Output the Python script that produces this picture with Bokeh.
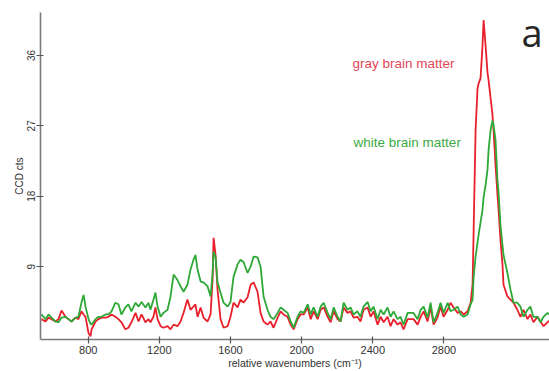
from bokeh.plotting import figure
from bokeh.models import Label, Range1d, FixedTicker, ColumnDataSource
from bokeh.embed import file_html
from bokeh.resources import INLINE

# relative wavenumbers (cm^-1)
wavenumber = [537, 560, 577, 594, 616, 633, 650, 672, 689, 706, 729, 745, 762, 774, 785, 802, 813, 819,
              841, 858, 875, 897, 914, 931, 953, 970, 987, 1009, 1026, 1043, 1066, 1083, 1100, 1122, 1139,
              1150, 1167, 1178, 1190, 1207, 1223, 1246, 1263, 1280, 1302, 1319, 1336, 1358, 1375, 1392,
              1403, 1415, 1432, 1448, 1471, 1488, 1499, 1505, 1516, 1527, 1544, 1561, 1584, 1600, 1617,
              1640, 1656, 1673, 1696, 1713, 1730, 1752, 1769, 1786, 1808, 1825, 1842, 1865, 1882, 1898,
              1921, 1938, 1955, 1977, 1994, 2011, 2034, 2051, 2067, 2090, 2107, 2124, 2146, 2163, 2180,
              2202, 2219, 2236, 2258, 2275, 2292, 2314, 2331, 2348, 2371, 2388, 2404, 2427, 2444, 2461,
              2483, 2500, 2517, 2539, 2556, 2573, 2596, 2612, 2629, 2652, 2669, 2686, 2708, 2725, 2742,
              2764, 2781, 2798, 2821, 2837, 2854, 2877, 2894, 2911, 2933, 2950, 2961, 2967, 2978, 2989,
              2995, 3006, 3017, 3023, 3034, 3045, 3051, 3062, 3073, 3079, 3090, 3101, 3107, 3118, 3129,
              3135, 3157, 3174, 3191, 3213, 3230, 3247, 3270, 3286, 3303, 3326, 3343, 3360, 3382, 3399]

# CCD counts, white brain matter (green)
white_matter = [2.9, 2.3, 2.9, 2.5, 2.0, 1.9, 2.5, 2.6, 2.3, 2.0, 2.5, 2.6, 4.4, 5.4, 3.9, 2.3, 1.7, 1.6,
                2.3, 2.6, 2.6, 2.9, 2.9, 3.3, 4.4, 4.2, 2.9, 3.8, 4.2, 3.3, 4.4, 3.9, 4.5, 3.8, 4.4,
                3.5, 4.8, 5.7, 3.9, 2.6, 3.1, 3.5, 5.2, 8.0, 7.3, 6.5, 5.8, 6.7, 8.6, 9.9,
                10.5, 8.6, 7.1, 7.0, 6.5, 5.2, 8.0, 10.9, 10.2, 7.0, 5.7, 4.4, 3.9, 4.5, 7.7,
                9.3, 9.9, 9.6, 8.2, 9.0, 10.3, 10.2, 9.0, 5.2, 3.5, 2.6, 2.3, 3.1, 3.8, 3.5,
                3.1, 2.0, 1.2, 2.6, 3.3, 3.1, 4.2, 2.9, 3.8, 2.6, 3.9, 4.4, 3.1, 2.3, 3.8,
                2.6, 2.0, 4.4, 3.5, 3.8, 2.9, 3.3, 2.6, 3.9, 4.5, 3.3, 3.9, 2.3, 3.5, 2.9,
                3.8, 2.6, 3.3, 2.3, 2.6, 1.6, 3.1, 3.1, 3.1, 2.3, 3.5, 3.9, 2.5, 4.4, 1.9,
                3.1, 4.4, 3.1, 4.4, 3.3, 3.5, 3.9, 2.9, 2.6, 2.9, 4.2, 4.8, 7.7, 10.3, 12.1,
                13.1, 14.7, 16.3, 17.9, 19.4, 21.4, 23.9, 26.4, 27.7, 27.1, 25.2, 20.1, 18.5, 14.3, 11.8,
                10.5, 8.2, 6.1, 4.4, 4.4, 3.9, 2.6, 3.5, 3.9, 2.6, 2.6, 1.9, 2.6, 3.1, 2.8]

# CCD counts, gray brain matter (red)
gray_matter = [2.3, 2.0, 2.5, 2.3, 2.0, 2.3, 3.4, 2.6, 2.3, 2.0, 2.5, 2.3, 3.3, 2.9, 2.6, 0.5, 0.1, 1.0,
               2.0, 2.3, 2.5, 2.5, 2.6, 2.9, 2.6, 2.3, 1.9, 1.0, 1.2, 1.9, 3.1, 2.0, 2.9, 1.9, 2.3,
               1.9, 2.6, 3.8, 2.3, 1.4, 1.2, 1.4, 1.0, 1.6, 1.4, 2.0, 3.1, 4.8, 3.5, 3.9,
               4.2, 2.6, 3.8, 2.5, 2.0, 2.9, 7.3, 12.7, 10.5, 6.1, 2.3, 1.2, 1.4, 2.6, 4.4,
               3.8, 4.8, 4.4, 5.1, 6.7, 7.0, 5.8, 3.1, 2.0, 1.6, 2.0, 1.2, 2.5, 3.3, 2.9,
               2.6, 1.6, 1.0, 2.3, 2.9, 2.9, 3.8, 2.3, 3.3, 2.3, 3.5, 3.8, 2.6, 1.9, 3.3,
               2.3, 2.0, 3.8, 3.1, 3.3, 2.5, 2.6, 2.0, 3.5, 3.8, 2.6, 3.3, 1.6, 2.6, 1.9,
               2.6, 1.4, 2.3, 1.6, 1.9, 1.0, 2.3, 2.3, 2.3, 1.6, 2.6, 3.3, 2.0, 3.8, 1.6,
               2.5, 3.9, 2.6, 3.5, 4.4, 3.8, 3.1, 3.3, 2.9, 3.3, 4.4, 6.7, 13.7, 26.4, 31.8,
               32.4, 33.1, 37.3, 40.5, 37.3, 33.8, 32.8, 30.6, 28.4, 26.4, 22.0, 18.2, 16.3, 12.4, 9.3,
               6.7, 5.2, 4.8, 4.4, 3.5, 2.6, 3.5, 2.3, 2.9, 1.9, 2.6, 2.0, 1.4, 1.9, 2.2]

x_ticks = [800, 1200, 1600, 2000, 2400, 2800]
y_ticks = [9, 18, 27, 36]

RED = "#e8202c"
GREEN = "#2ea836"

src = ColumnDataSource(dict(w=wavenumber, white=white_matter, gray=gray_matter))

p = figure(width=549, height=371, output_backend="svg", toolbar_location=None,
           x_range=Range1d(531.8, 3393.5), y_range=Range1d(-0.3, 41.48),
           min_border_left=40, min_border_right=0, min_border_top=12, min_border_bottom=31)
p.outline_line_color = None
p.grid.visible = False
p.background_fill_color = "white"
p.border_fill_color = "white"

p.line("w", "gray", source=src, line_color=RED, line_width=1.8)
p.line("w", "white", source=src, line_color=GREEN, line_width=1.8)

axis_color = "#7a7a7a"
for ax in (p.xaxis[0], p.yaxis[0]):
    ax.axis_line_color = axis_color
    ax.axis_line_width = 1.6
    ax.major_tick_line_color = "#555555"
    ax.major_tick_line_width = 1.2
    ax.minor_tick_line_color = None
    ax.major_label_text_font = "Liberation Sans"
    ax.major_label_text_color = "#333333"
    ax.axis_label_text_font = "Liberation Sans"
    ax.axis_label_text_font_style = "normal"
    ax.axis_label_text_color = "#333333"

p.xaxis.ticker = FixedTicker(ticks=x_ticks)
p.xaxis.major_tick_in = 3
p.xaxis.major_tick_out = 4
p.xaxis.major_label_standoff = 2
p.xaxis.major_label_text_font_size = "11px"
p.xaxis.axis_label = "relative wavenumbers (cm\u207b\u00b9)"
p.xaxis.axis_label_text_font_size = "10.5px"
p.xaxis.axis_label_standoff = 0

p.yaxis.ticker = FixedTicker(ticks=y_ticks)
p.yaxis.major_tick_in = 3
p.yaxis.major_tick_out = 4
p.yaxis.major_label_standoff = 1
p.yaxis.major_label_orientation = "vertical"
p.yaxis.major_label_text_font_size = "10px"
p.yaxis.axis_label = "CCD cts"
p.yaxis.axis_label_text_font_size = "10px"
p.yaxis.axis_label_standoff = 0

p.add_layout(Label(x=2286, y=34.9, text="gray brain matter", text_color="#e04858",
                   text_font="Liberation Sans", text_font_size="13.5px",
                   text_baseline="middle", text_align="left"))
p.add_layout(Label(x=2292, y=24.86, text="white brain matter", text_color="#3caa44",
                   text_font="Liberation Sans", text_font_size="13.5px",
                   text_baseline="middle", text_align="left"))
p.add_layout(Label(x=3236, y=39.0, text="a", text_color="#262626",
                   text_font="Open Sans", text_font_size="38px",
                   text_baseline="middle", text_align="left"))

open("out.html", "w").write(file_html(p, INLINE))
